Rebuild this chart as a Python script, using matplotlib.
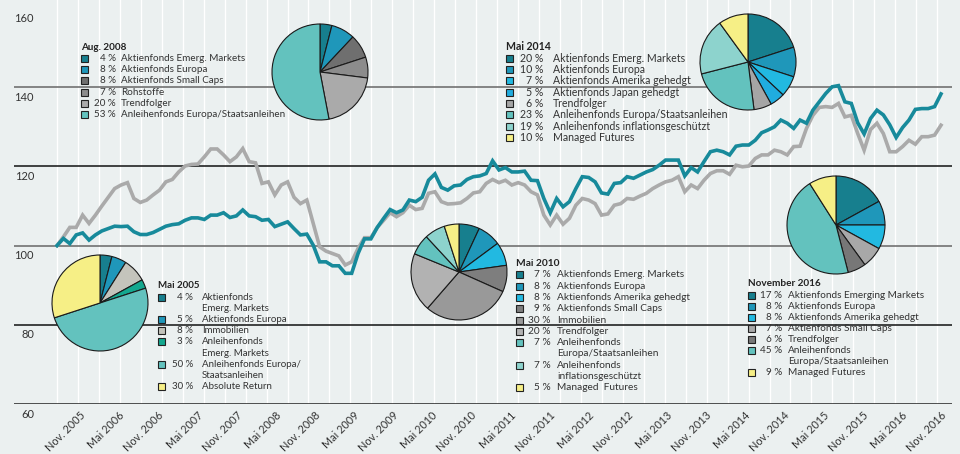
import numpy as np
import matplotlib.pyplot as plt
from matplotlib.patches import Rectangle

plt.rcParams['font.family'] = ['Lato', 'DejaVu Sans']

# monthly index values, month 0 = Mai 2005 ... month 138 = Nov. 2016
months = np.arange(139)
teal = [100.0, 101.8, 100.5, 102.7, 103.2, 101.4, 102.7, 103.7, 104.3, 104.9,
        104.8, 104.9, 103.5, 102.8, 102.8, 103.3, 104.1, 104.9, 105.3, 105.5,
        106.4, 107.0, 107.0, 106.6, 107.7, 107.7, 108.3, 107.1, 107.5, 109.0,
        107.5, 107.3, 106.4, 106.6, 104.8, 105.4, 106.0, 104.3, 102.7, 102.9,
        100.1, 95.9, 95.9, 94.9, 94.9, 93.0, 93.0, 98.0, 101.7, 101.7,
        104.6, 106.9, 109.1, 108.3, 109.0, 111.5, 111.1, 112.2, 116.5, 118.1,
        114.7, 114.0, 115.1, 115.3, 116.7, 117.4, 117.6, 118.2, 121.4, 119.1,
        119.7, 118.6, 118.6, 118.8, 116.5, 116.4, 111.9, 108.3, 111.9, 109.8,
        111.1, 114.4, 117.4, 117.2, 116.1, 113.3, 113.0, 115.7, 115.9, 117.4,
        117.0, 117.8, 118.6, 119.2, 120.3, 121.6, 121.6, 121.6, 117.6, 119.7,
        118.6, 121.2, 123.7, 124.1, 123.7, 122.9, 125.1, 125.4, 125.4, 126.6,
        128.5, 129.2, 130.0, 131.7, 130.9, 129.6, 131.7, 130.9, 134.2, 136.3,
        138.4, 140.1, 140.4, 136.3, 135.9, 131.0, 128.2, 132.1, 134.2, 133.0,
        130.5, 127.3, 129.8, 131.7, 134.4, 134.6, 134.6, 135.1, 138.3]
gray = [100.0, 102.2, 104.6, 104.6, 107.7, 105.6, 107.7, 110.0, 112.2, 114.4,
        115.3, 115.9, 111.9, 110.9, 111.5, 112.8, 114.0, 116.1, 116.7, 118.6,
        120.1, 120.5, 120.6, 122.4, 124.4, 124.4, 122.9, 121.2, 122.4, 124.5,
        121.2, 120.9, 115.7, 116.1, 112.8, 115.3, 116.1, 112.2, 110.6, 111.5,
        105.6, 99.7, 98.6, 98.0, 97.4, 95.1, 95.9, 99.3, 102.0, 102.0,
        104.6, 106.4, 108.3, 107.3, 108.3, 110.2, 109.1, 109.4, 113.2, 113.6,
        111.1, 110.5, 110.6, 110.8, 111.9, 113.3, 113.6, 115.7, 116.7, 115.9,
        116.5, 115.3, 115.9, 115.3, 113.6, 112.8, 107.7, 105.2, 107.7, 105.4,
        106.9, 110.2, 111.9, 111.5, 110.6, 107.7, 108.0, 110.2, 110.6, 111.9,
        111.7, 112.5, 113.2, 114.4, 115.3, 116.1, 116.5, 117.4, 113.6, 115.3,
        114.4, 116.5, 118.2, 118.9, 118.9, 118.0, 120.3, 119.9, 120.1, 122.0,
        122.9, 122.9, 124.1, 123.7, 122.9, 125.0, 125.1, 129.6, 132.9, 134.9,
        135.1, 134.9, 135.9, 132.5, 132.9, 128.3, 124.1, 129.3, 130.9, 128.3,
        123.7, 123.7, 125.0, 126.6, 125.6, 127.5, 127.5, 127.9, 130.4]

tick_months = np.arange(6, 139, 6)
tick_labels = ['Nov. 2005', 'Mai 2006', 'Nov. 2006', 'Mai 2007', 'Nov. 2007',
               'Mai 2008', 'Nov. 2008', 'Mai 2009', 'Nov. 2009', 'Mai 2010',
               'Nov. 2010', 'Mai 2011', 'Nov. 2011', 'Mai 2012', 'Nov. 2012',
               'Mai 2013', 'Nov. 2013', 'Mai 2014', 'Nov. 2014', 'Mai 2015',
               'Nov. 2015', 'Mai 2016', 'Nov. 2016']
y_ticks = [160, 140, 120, 100, 80, 60]

# allocation snapshots
c_em, c_eu, c_am, c_jp = '#177F8E', '#1F97BA', '#22B9E1', '#20ACDF'
c_anl, c_infl, c_yel, c_anem = '#63C2BE', '#8DD3CD', '#F6EF86', '#14A88F'

pct_2005 = [4, 5, 8, 3, 50, 30]
lab_2005 = ['Aktienfonds\nEmerg. Markets', 'Aktienfonds Europa', 'Immobilien',
            'Anleihenfonds\nEmerg. Markets', 'Anleihenfonds Europa/\nStaatsanleihen',
            'Absolute Return']
col_2005 = [c_em, c_eu, '#C4C4BC', c_anem, c_anl, c_yel]

pct_2008 = [4, 8, 8, 7, 20, 53]
lab_2008 = ['Aktienfonds Emerg. Markets', 'Aktienfonds Europa', 'Aktienfonds Small Caps',
            'Rohstoffe', 'Trendfolger', 'Anleihenfonds Europa/Staatsanleihen']
col_2008 = [c_em, c_eu, '#6F6F6F', '#8C8C8C', '#AAAAAA', c_anl]

pct_2010 = [7, 8, 8, 9, 30, 20, 7, 7, 5]
lab_2010 = ['Aktienfonds Emerg. Markets', 'Aktienfonds Europa', 'Aktienfonds Amerika gehedgt',
            'Aktienfonds Small Caps', 'Immobilien', 'Trendfolger',
            'Anleihenfonds\nEuropa/Staatsanleihen', 'Anleihenfonds\ninflationsgeschützt',
            'Managed  Futures']
col_2010 = [c_em, c_eu, c_am, '#7E7E7E', '#999999', '#B2B2B2', c_anl, c_infl, c_yel]

pct_2014 = [20, 10, 7, 5, 6, 23, 19, 10]
lab_2014 = ['Aktienfonds Emerg. Markets', 'Aktienfonds Europa', 'Aktienfonds Amerika gehedgt',
            'Aktienfonds Japan gehedgt', 'Trendfolger', 'Anleihenfonds Europa/Staatsanleihen',
            'Anleihenfonds inflationsgeschützt', 'Managed Futures']
col_2014 = [c_em, c_eu, c_am, c_jp, '#A5A5A5', c_anl, c_infl, c_yel]

pct_2016 = [17, 8, 8, 7, 6, 45, 9]
lab_2016 = ['Aktienfonds Emerging Markets', 'Aktienfonds Europa', 'Aktienfonds Amerika gehedgt',
            'Aktienfonds Small Caps', 'Trendfolger', 'Anleihenfonds\nEuropa/Staatsanleihen',
            'Managed Futures']
col_2016 = [c_em, c_eu, c_am, '#A8A8A8', '#777777', c_anl, c_yel]

W, H = 960, 454
bg = '#EBF0F0'
fig = plt.figure(figsize=(W / 100, H / 100), dpi=100, facecolor=bg)

# main axes: 14..952 px horizontally, 0..404 px vertically
ax = fig.add_axes([14 / W, (H - 404) / H, (952 - 14) / W, 404 / H])
ax.set_facecolor(bg)
px_per_month = 884 / 138
ax.set_xlim(-43 / px_per_month, 138 + 11 / px_per_month)
ax.set_ylim(60, 60 + 404 / 3.96)
for s in ax.spines.values():
    s.set_visible(False)
ax.set_xticks([])
ax.set_yticks([])

for g in np.linspace(0, 137.4, 43):
    ax.axvline(g, color='white', lw=1.0, zorder=1)

line_cols = {140: '#666666', 120: '#111111', 100: '#666666', 80: '#111111', 60: '#222222'}
for v, c in line_cols.items():
    ax.axhline(v, color=c, lw=1.1, zorder=2)

ax.plot(months, gray, color='#AAAAAA', lw=2.6, zorder=3, solid_joinstyle='miter')
ax.plot(months, teal, color='#178A9B', lw=2.6, zorder=4, solid_joinstyle='miter')

for v in y_ticks:
    ax.annotate(str(v), xy=(0, v), xycoords=('axes fraction', 'data'),
                xytext=(20, -10), textcoords='offset pixels', ha='right', va='center',
                fontsize=8, color='#333333', annotation_clip=False)

# tick labels, spaced as in the original layout
for m, lab in zip(tick_months, tick_labels):
    xl = 1.018 * m - 2.4
    ax.annotate(lab, xy=(xl, 0), xycoords=('data', 'axes fraction'),
                xytext=(-1, -6), textcoords='offset pixels', rotation=45,
                rotation_mode='anchor', ha='right', va='top', fontsize=7.8,
                color='#333333', annotation_clip=False)


def pie(cx, cy, r, pcts, cols):
    rr = r * 1.04
    pa = fig.add_axes([(cx - rr) / W, (H - cy - rr) / H, 2 * rr / W, 2 * rr / H])
    pa.pie(pcts, colors=cols, startangle=90, counterclock=False, radius=1,
           wedgeprops=dict(edgecolor='#1A1A1A', linewidth=0.8))
    pa.set_xlim(-1.04, 1.04)
    pa.set_ylim(-1.04, 1.04)
    pa.set_aspect('auto')


pie(100, 303, 48, pct_2005, col_2005)
pie(320, 72, 48, pct_2008, col_2008)
pie(459, 272, 48, pct_2010, col_2010)
pie(748, 62, 48, pct_2014, col_2014)
pie(836, 225, 49, pct_2016, col_2016)

ov = fig.add_axes([0, 0, 1, 1])
ov.set_xlim(0, W)
ov.set_ylim(H, 0)
ov.axis('off')


def legend(x, y, title, pcts, labels, cols, pct_x, lab_x, fs, step=11.3):
    ov.text(x, y, title, fontsize=fs, fontweight='bold', va='center', color='#222222')
    yy = y + step
    for p, lab, c in zip(pcts, labels, cols):
        ov.add_patch(Rectangle((x, yy - 3.5), 7, 7, facecolor=c, edgecolor='#222222', lw=0.8))
        ov.text(pct_x, yy, f'{p} %', ha='right', va='center', fontsize=fs, color='#333333')
        for i, part in enumerate(lab.split('\n')):
            ov.text(lab_x, yy + i * step, part, va='center', fontsize=fs, color='#333333')
        yy += step * (lab.count('\n') + 1)


legend(158, 286, 'Mai 2005', pct_2005, lab_2005, col_2005, 193, 202, 7.0, 11.2)
legend(81, 47, 'Aug. 2008', pct_2008, lab_2008, col_2008, 116, 121, 7.1)
legend(516, 263.5, 'Mai 2010', pct_2010, lab_2010, col_2010, 551, 557, 7.3)
legend(506, 47, 'Mai 2014', pct_2014, lab_2014, col_2014, 543, 553, 7.6)
legend(748, 284, 'November 2016', pct_2016, lab_2016, col_2016, 782, 788, 7.2, 11.1)

fig.savefig('out.png', dpi=100, facecolor=bg)
